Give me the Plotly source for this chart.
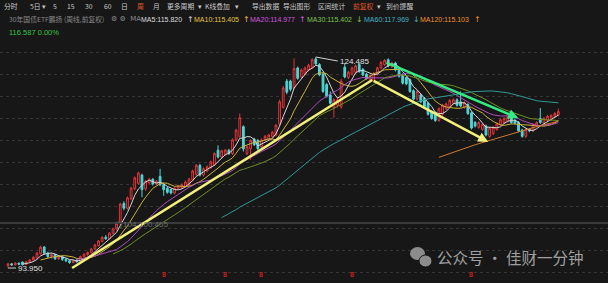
import plotly.graph_objects as go
import pandas as pd

# ---------------- data (weekly K-line) ----------------
opens = [94.30, 94.55, 94.40, 94.65, 94.80, 94.45, 94.85, 95.10, 95.40, 96.00,
         97.00, 96.10, 95.60, 95.90, 95.30, 95.60, 95.20, 95.00, 94.75, 95.05,
         94.85, 95.60, 95.90, 96.20, 96.70, 97.20, 97.80, 98.40, 98.20, 99.00,
         99.60, 100.40, 103.30, 102.60, 104.00, 105.40, 106.20, 107.40, 105.40, 106.30,
         106.80, 106.10, 107.20, 106.00, 105.50, 105.30, 104.80, 105.50, 105.60, 105.80,
         106.00, 106.70, 107.50, 108.80, 107.40, 108.00, 108.50, 108.90, 111.00, 110.00,
         110.40, 111.00, 110.50, 112.50, 113.00, 114.40, 110.50, 111.20, 112.60, 112.40,
         111.50, 112.50, 112.60, 113.00, 113.20, 114.80, 117.20, 121.00, 121.00, 120.00,
         122.90, 121.60, 122.00, 122.60, 123.00, 124.20, 123.40, 122.00, 120.50, 119.00,
         117.20, 117.50, 117.30, 123.00, 121.50, 122.00, 122.30, 123.40, 122.70, 122.00,
         121.20, 121.00, 122.00, 122.90, 123.40, 124.10, 123.10, 123.60, 122.90, 121.90,
         121.50, 121.20, 119.60, 118.40, 119.00, 118.50, 117.80, 116.50, 116.40, 115.30,
         116.20, 117.00, 117.30, 117.80, 118.30, 118.00, 117.20, 117.60, 116.40, 115.00,
         114.30, 114.00, 114.50, 113.00, 113.40, 114.00, 114.70, 115.00, 115.20, 115.80,
         115.30, 115.00, 113.90, 113.00, 114.00, 113.80, 114.50, 115.60, 114.90, 115.30,
         115.40, 115.90, 116.10]
closes = [94.55, 94.40, 94.65, 94.50, 94.45, 94.85, 95.10, 95.50, 96.10, 96.95,
          96.10, 95.60, 95.90, 95.30, 95.60, 95.20, 95.00, 94.75, 95.05, 94.85,
          95.60, 95.95, 96.20, 96.70, 97.30, 97.85, 98.40, 98.20, 99.00, 99.60,
          100.40, 103.20, 102.60, 104.10, 105.50, 107.00, 107.70, 105.30, 106.50, 106.80,
          106.10, 106.50, 106.00, 105.30, 104.90, 104.80, 105.50, 105.80, 106.00, 106.40,
          106.80, 108.00, 108.80, 107.40, 108.30, 108.60, 109.30, 110.50, 110.00, 110.90,
          111.00, 110.50, 112.50, 113.90, 115.70, 111.20, 111.50, 112.40, 111.80, 111.20,
          112.50, 113.00, 113.20, 113.60, 114.60, 118.00, 120.00, 119.40, 119.80, 122.80,
          121.40, 122.60, 122.90, 123.30, 124.10, 123.50, 121.90, 119.50, 118.80, 117.80,
          118.30, 118.30, 121.00, 121.60, 122.30, 122.90, 123.20, 122.40, 121.90, 121.40,
          121.80, 122.10, 122.90, 123.70, 124.00, 123.20, 123.60, 122.60, 121.70, 120.70,
          120.60, 119.50, 118.40, 119.50, 118.00, 117.30, 116.20, 115.60, 115.30, 117.00,
          117.50, 117.70, 118.20, 118.30, 117.50, 117.40, 117.90, 116.30, 114.20, 114.50,
          115.00, 114.70, 113.20, 114.20, 114.30, 114.80, 115.40, 115.60, 115.80, 115.00,
          114.90, 113.80, 113.00, 114.00, 113.80, 114.70, 115.00, 115.00, 115.60, 115.90,
          116.00, 116.30, 116.587]
highs = [94.70, 94.65, 94.80, 94.75, 94.90, 95.00, 95.25, 95.65, 96.25, 97.20,
         97.10, 96.30, 96.10, 96.00, 95.80, 95.75, 95.40, 95.15, 95.20, 95.25,
         95.75, 96.10, 96.35, 96.85, 97.45, 98.00, 98.55, 98.70, 99.15, 99.80,
         100.55, 103.40, 103.60, 104.30, 105.70, 107.20, 107.90, 107.60, 106.70, 107.00,
         106.95, 106.70, 108.30, 106.20, 105.70, 105.40, 105.70, 106.00, 106.20, 106.60,
         107.00, 108.20, 109.00, 109.00, 108.50, 108.80, 109.50, 110.70, 111.70, 111.10,
         111.20, 111.20, 112.70, 114.10, 116.30, 114.60, 111.70, 112.60, 112.80, 112.60,
         112.70, 113.20, 113.40, 113.80, 114.80, 118.30, 120.30, 121.30, 121.20, 124.30,
         123.10, 122.80, 123.10, 123.50, 124.30, 124.485, 123.60, 122.30, 120.70, 119.50,
         118.50, 118.60, 121.30, 123.60, 122.50, 123.10, 123.40, 123.60, 122.90, 122.20,
         122.00, 122.30, 123.10, 123.90, 124.20, 124.30, 123.80, 123.80, 123.10, 122.10,
         121.70, 121.40, 119.80, 119.70, 119.20, 118.70, 118.00, 116.70, 116.60, 117.20,
         117.70, 117.90, 118.40, 118.50, 118.50, 119.50, 118.10, 117.80, 116.60, 115.20,
         115.20, 114.90, 114.70, 114.40, 114.50, 115.00, 115.60, 115.80, 116.00, 116.00,
         115.50, 115.20, 114.10, 114.20, 114.20, 114.90, 115.20, 117.10, 115.80, 116.10,
         116.20, 116.50, 117.00]
lows = [93.95, 94.25, 94.30, 94.35, 94.30, 94.40, 94.75, 95.00, 95.30, 95.90,
        95.90, 95.40, 95.30, 95.10, 95.10, 94.95, 94.80, 94.55, 94.60, 94.70,
        94.80, 95.45, 95.70, 96.05, 96.60, 97.05, 97.65, 98.00, 98.05, 98.85,
        99.40, 100.20, 102.30, 102.40, 103.80, 105.20, 106.00, 104.20, 105.10, 106.00,
        105.90, 105.90, 105.80, 104.40, 104.70, 104.60, 104.60, 105.30, 105.40, 105.60,
        105.80, 106.50, 107.30, 107.20, 107.20, 107.80, 108.30, 108.70, 109.80, 109.80,
        110.20, 110.30, 110.30, 112.30, 112.80, 110.80, 110.30, 109.60, 111.60, 110.90,
        111.30, 112.30, 112.40, 112.80, 113.00, 114.60, 117.00, 119.10, 119.50, 119.80,
        121.20, 121.40, 121.80, 122.40, 122.80, 123.30, 121.70, 119.30, 118.60, 117.60,
        115.70, 117.20, 117.00, 121.40, 121.30, 121.80, 122.10, 122.20, 121.70, 121.20,
        121.00, 120.80, 121.80, 122.70, 123.20, 123.00, 122.90, 122.40, 121.50, 120.50,
        120.40, 119.30, 118.20, 118.20, 117.80, 117.10, 116.00, 115.40, 115.10, 115.10,
        116.00, 116.80, 117.10, 117.60, 117.30, 117.20, 117.00, 116.10, 114.00, 114.30,
        114.10, 113.80, 113.00, 112.80, 113.20, 113.80, 114.50, 114.80, 115.00, 114.80,
        114.70, 113.60, 112.80, 112.80, 113.60, 113.60, 114.30, 114.80, 114.70, 115.10,
        115.20, 115.70, 115.90]

weeks = list(range(len(closes)))

ma_periods = [5, 10, 20, 30, 60, 120]
ma_colors = ["#d6d6d6", "#c9b13a", "#b04cc4", "#6f8f23", "#2f9a94", "#cf7a2e"]
ma_last = ["115.820", "115.405", "114.977", "115.402", "117.969", "115.103"]
ma_label_colors = ["#dcdcdc", "#e8c43c", "#d455e0", "#7cc44a", "#3fb3c2", "#f0902a"]
ma_arrows = ["↑", "↑", "↑", "↓", "↓", "↑"]

price_low, price_high = 93.950, 124.485
ref_line_price = 100.455
last_price_text = "116.587 0.00%"

# hand-drawn trend lines (week index, price)
yellow_up = [(17.7, 93.95), (100.6, 121.16)]
yellow_down = [(100.6, 121.16), (132.6, 112.2)]
green_down = [(104.1, 123.76), (140.9, 115.66)]

event_weeks = [43, 60, 70, 95, 128]

toolbar = [("分时", 2), ("5日", 28), ("▾", 40), ("5", 51), ("15", 65), ("30", 83), ("60", 102),
           ("日", 119), ("周", 135), ("月", 151), ("更多周期", 165), ("▾", 196),
           ("K线叠加", 203), ("▾", 233), ("导出数据", 250), ("导出图形", 281),
           ("区间统计", 316), ("前复权", 351), ("▾", 375), ("到价提醒", 384)]

# ---------------- figure ----------------
BG = "#171717"
W, H = 608, 283
CJK = "Noto Sans CJK SC"

fig = go.Figure()
fig.add_trace(go.Candlestick(
    x=weeks, open=opens, high=highs, low=lows, close=closes,
    increasing=dict(line=dict(color="#e0353a", width=1), fillcolor=BG),
    decreasing=dict(line=dict(color="#4fd6d6", width=1), fillcolor="#4fd6d6"),
    whiskerwidth=0, hoverinfo="skip"))

s = pd.Series(closes)
for n, c in zip(ma_periods, ma_colors):
    fig.add_trace(go.Scatter(x=weeks, y=s.rolling(n).mean(), mode="lines",
                             line=dict(color=c, width=1), hoverinfo="skip"))

shapes = []
shapes.append(dict(type="line", xref="paper", x0=0, x1=1, yref="y",
                   y0=ref_line_price, y1=ref_line_price,
                   line=dict(color="#3a3a3a", width=2)))
shapes.append(dict(type="line", xref="x", yref="y",
                   x0=yellow_up[0][0], y0=yellow_up[0][1], x1=yellow_up[1][0], y1=yellow_up[1][1],
                   line=dict(color="#f2f07a", width=2.5)))
# wechat bubble icon (watermark)
shapes.append(dict(type="circle", xref="paper", yref="paper",
                   x0=410/W, x1=425/W, y0=1-260/H, y1=1-247/H,
                   fillcolor="#8c8c8c", line=dict(width=0)))
shapes.append(dict(type="circle", xref="paper", yref="paper",
                   x0=419/W, x1=432/W, y0=1-267/H, y1=1-255/H,
                   fillcolor="#8c8c8c", line=dict(color=BG, width=1)))
fig.update_layout(shapes=shapes)

ann = []
for seg, col in ((yellow_down, "#f2f07a"), (green_down, "#33ea85")):
    ann.append(dict(x=seg[1][0], y=seg[1][1], ax=seg[0][0], ay=seg[0][1],
                    xref="x", yref="y", axref="x", ayref="y", text="",
                    showarrow=True, arrowhead=2, arrowsize=0.8, arrowwidth=2.5,
                    arrowcolor=col))
hi_idx = highs.index(max(highs))
ann.append(dict(x=hi_idx, y=price_high, xref="x", yref="y", text=f"{price_high:.3f}",
                showarrow=True, ax=22, ay=4, arrowhead=0, arrowwidth=1, arrowcolor="#d0d0d0",
                xanchor="left", font=dict(color="#e0e0e0", size=8, family="Arial")))
lo_idx = lows.index(min(lows))
ann.append(dict(x=lo_idx, y=price_low, xref="x", yref="y", text=f"{price_low:.3f}",
                showarrow=True, ax=8, ay=0, arrowhead=0, arrowwidth=1, arrowcolor="#d0d0d0",
                xanchor="left", font=dict(color="#e0e0e0", size=8, family="Arial")))
ann.append(dict(x=113/W, y=1-231/H, xref="paper", yref="paper", xanchor="left",
                text=f"▢104-{ref_line_price:.3f}", showarrow=False,
                font=dict(color="#6e6e6e", size=8, family="Arial")))
for wk in event_weeks:
    ann.append(dict(x=wk, y=1-278.5/H, xref="x", yref="paper", text="<b>8</b>", showarrow=False,
                    borderpad=0, font=dict(color="#d01e1e", size=7, family="Arial")))

for txt, px in toolbar:
    col = "#e0562a" if txt in ("周", "前复权") else "#c8c8c8"
    ann.append(dict(x=px/W, y=1-6/H, xref="paper", yref="paper", xanchor="left", yanchor="middle",
                    text=txt, showarrow=False, font=dict(color=col, size=6.8, family=CJK)))
ann.append(dict(x=7/W, y=1-19/H, xref="paper", yref="paper", xanchor="left", yanchor="middle",
                text="30年国债ETF鹏扬 (周线,前复权)", showarrow=False,
                font=dict(color="#8a8a8a", size=6.8, family=CJK)))
ann.append(dict(x=109/W, y=1-19/H, xref="paper", yref="paper", xanchor="left", yanchor="middle",
                text="⚙ ⚙  MA", showarrow=False,
                font=dict(color="#8a8a8a", size=7, family="DejaVu Sans")))
label_x = [139, 192, 248, 305, 362, 418]
arrow_x = [185, 241, 297, 354, 411, 472]
for n, v, c, a, lx, axp in zip(ma_periods, ma_last, ma_label_colors, ma_arrows, label_x, arrow_x):
    ann.append(dict(x=lx/W, y=1-19/H, xref="paper", yref="paper", xanchor="left", yanchor="middle",
                    text=f"MA{n}:{v}", showarrow=False,
                    font=dict(color=c, size=7, family="Arial")))
    ann.append(dict(x=axp/W, y=1-19/H, xref="paper", yref="paper", xanchor="left", yanchor="middle",
                    text=a, showarrow=False, font=dict(color=c, size=8, family="DejaVu Sans")))
ann.append(dict(x=7/W, y=1-32/H, xref="paper", yref="paper", xanchor="left", yanchor="middle",
                text=last_price_text, showarrow=False,
                font=dict(color="#35c24a", size=7.5, family="Arial")))
ann.append(dict(x=436/W, y=1-256.5/H, xref="paper", yref="paper", xanchor="left", yanchor="middle",
                text="公众号 · 佳财一分钟", showarrow=False, borderpad=0,
                font=dict(color="#a0a0a0", size=15.5, family=CJK)))

fig.update_layout(
    annotations=ann,
    width=W, height=H,
    margin=dict(l=0, r=0, t=0, b=0),
    paper_bgcolor=BG, plot_bgcolor=BG,
    showlegend=False,
    xaxis=dict(range=[-2.21, 165.7], visible=False, rangeslider=dict(visible=False),
               fixedrange=True),
    yaxis=dict(range=[91.78, 126.945], domain=[0, 243/H], showticklabels=False,
               showgrid=True, gridcolor="#353535", griddash="dot", gridwidth=1,
               tick0=93.3, dtick=3.18, zeroline=False, fixedrange=True),
)

fig.write_html("out.html")
